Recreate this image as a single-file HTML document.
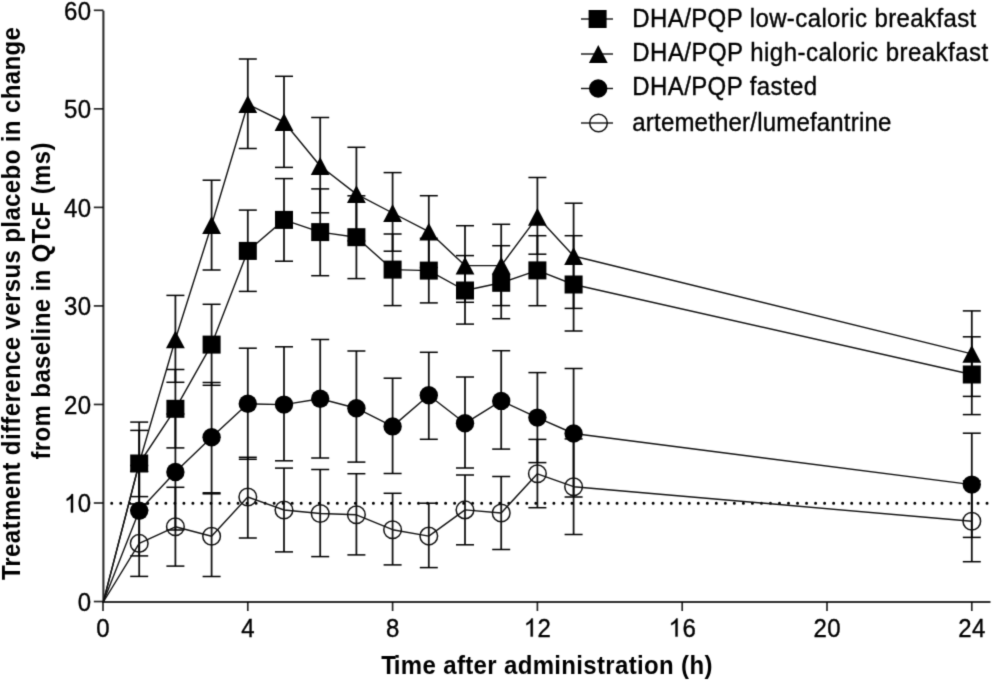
<!DOCTYPE html>
<html><head><meta charset="utf-8"><title>QTcF chart</title>
<style>
html,body{margin:0;padding:0;background:#fff;}
body{width:992px;height:681px;overflow:hidden;}
svg{display:block;}
#w{width:992px;height:681px;}
</style></head><body>
<div id="w"><svg width="992" height="681" viewBox="0 0 992 681"><defs><filter id="bl" x="0" y="0" width="992" height="681" filterUnits="userSpaceOnUse" color-interpolation-filters="sRGB"><feConvolveMatrix order="3" kernelMatrix="0.019 0.1 0.019 0.1 0.524 0.1 0.019 0.1 0.019" edgeMode="duplicate"/></filter></defs><g filter="url(#bl)">
<rect width="992" height="681" fill="#fff"/>
<line x1="111.7" y1="503.2" x2="990" y2="503.2" stroke="#000" stroke-width="3" stroke-linecap="round" stroke-dasharray="0.01 9.014"/>
<g stroke="#000" stroke-opacity="0.82" stroke-width="2.1" fill="none">
<path d="M103.4,10.7 V602 H990.5"/>
</g>
<g stroke="#000" stroke-opacity="0.85" stroke-width="1.7" fill="none">
<line x1="93.8" y1="601.54" x2="103.4" y2="601.54"/>
<line x1="93.8" y1="503.00" x2="103.4" y2="503.00"/>
<line x1="93.8" y1="404.46" x2="103.4" y2="404.46"/>
<line x1="93.8" y1="305.92" x2="103.4" y2="305.92"/>
<line x1="93.8" y1="207.38" x2="103.4" y2="207.38"/>
<line x1="93.8" y1="108.84" x2="103.4" y2="108.84"/>
<line x1="93.8" y1="10.30" x2="103.4" y2="10.30"/>
<line x1="103.00" y1="602" x2="103.00" y2="611"/>
<line x1="247.80" y1="602" x2="247.80" y2="611"/>
<line x1="392.60" y1="602" x2="392.60" y2="611"/>
<line x1="537.40" y1="602" x2="537.40" y2="611"/>
<line x1="682.20" y1="602" x2="682.20" y2="611"/>
<line x1="827.00" y1="602" x2="827.00" y2="611"/>
<line x1="971.80" y1="602" x2="971.80" y2="611"/>
</g>
<g stroke="#000" stroke-opacity="0.92" stroke-width="1.8" fill="none">
<line x1="139.20" y1="430.40" x2="139.20" y2="496.60"/>
<line x1="175.40" y1="369.50" x2="175.40" y2="447.90"/>
<line x1="211.60" y1="304.30" x2="211.60" y2="385.30"/>
<line x1="247.80" y1="210.10" x2="247.80" y2="291.40"/>
<line x1="284.00" y1="178.60" x2="284.00" y2="261.20"/>
<line x1="320.20" y1="188.90" x2="320.20" y2="275.70"/>
<line x1="356.40" y1="195.80" x2="356.40" y2="278.60"/>
<line x1="392.60" y1="234.00" x2="392.60" y2="305.60"/>
<line x1="428.80" y1="238.30" x2="428.80" y2="302.90"/>
<line x1="465.00" y1="255.60" x2="465.00" y2="324.10"/>
<line x1="501.20" y1="245.70" x2="501.20" y2="318.70"/>
<line x1="537.40" y1="235.70" x2="537.40" y2="305.70"/>
<line x1="573.60" y1="235.70" x2="573.60" y2="331.00"/>
<line x1="971.80" y1="336.80" x2="971.80" y2="414.60"/>
<line x1="139.20" y1="422.10" x2="139.20" y2="503.90"/>
<line x1="175.40" y1="295.40" x2="175.40" y2="382.30"/>
<line x1="211.60" y1="180.20" x2="211.60" y2="270.00"/>
<line x1="247.80" y1="59.00" x2="247.80" y2="148.50"/>
<line x1="284.00" y1="76.30" x2="284.00" y2="167.40"/>
<line x1="320.20" y1="117.50" x2="320.20" y2="212.80"/>
<line x1="356.40" y1="147.30" x2="356.40" y2="240.90"/>
<line x1="392.60" y1="172.60" x2="392.60" y2="251.20"/>
<line x1="428.80" y1="195.70" x2="428.80" y2="267.50"/>
<line x1="465.00" y1="225.70" x2="465.00" y2="302.30"/>
<line x1="501.20" y1="224.30" x2="501.20" y2="305.60"/>
<line x1="537.40" y1="177.50" x2="537.40" y2="254.20"/>
<line x1="573.60" y1="203.20" x2="573.60" y2="308.40"/>
<line x1="971.80" y1="310.90" x2="971.80" y2="396.40"/>
<line x1="139.20" y1="465.50" x2="139.20" y2="555.90"/>
<line x1="175.40" y1="414.00" x2="175.40" y2="530.00"/>
<line x1="211.60" y1="382.50" x2="211.60" y2="492.80"/>
<line x1="247.80" y1="348.20" x2="247.80" y2="459.30"/>
<line x1="284.00" y1="346.80" x2="284.00" y2="460.80"/>
<line x1="320.20" y1="339.50" x2="320.20" y2="458.00"/>
<line x1="356.40" y1="351.00" x2="356.40" y2="462.10"/>
<line x1="392.60" y1="378.20" x2="392.60" y2="473.50"/>
<line x1="428.80" y1="352.30" x2="428.80" y2="439.30"/>
<line x1="465.00" y1="377.00" x2="465.00" y2="468.00"/>
<line x1="501.20" y1="350.70" x2="501.20" y2="449.10"/>
<line x1="537.40" y1="372.60" x2="537.40" y2="462.60"/>
<line x1="573.60" y1="368.50" x2="573.60" y2="497.00"/>
<line x1="971.80" y1="433.20" x2="971.80" y2="537.40"/>
<line x1="139.20" y1="510.40" x2="139.20" y2="576.40"/>
<line x1="175.40" y1="487.30" x2="175.40" y2="566.10"/>
<line x1="211.60" y1="493.80" x2="211.60" y2="576.50"/>
<line x1="247.80" y1="457.30" x2="247.80" y2="538.00"/>
<line x1="284.00" y1="468.10" x2="284.00" y2="551.90"/>
<line x1="320.20" y1="469.50" x2="320.20" y2="556.60"/>
<line x1="356.40" y1="473.70" x2="356.40" y2="554.90"/>
<line x1="392.60" y1="493.30" x2="392.60" y2="564.90"/>
<line x1="428.80" y1="503.20" x2="428.80" y2="567.60"/>
<line x1="465.00" y1="475.00" x2="465.00" y2="544.80"/>
<line x1="501.20" y1="476.50" x2="501.20" y2="549.50"/>
<line x1="537.40" y1="439.40" x2="537.40" y2="507.70"/>
<line x1="573.60" y1="438.90" x2="573.60" y2="534.50"/>
<line x1="971.80" y1="480.90" x2="971.80" y2="561.70"/>
</g>
<g stroke="#000" stroke-opacity="1" stroke-width="1.5" fill="none">
<line x1="130.20" y1="430.40" x2="148.20" y2="430.40"/>
<line x1="130.20" y1="496.60" x2="148.20" y2="496.60"/>
<line x1="166.40" y1="369.50" x2="184.40" y2="369.50"/>
<line x1="166.40" y1="447.90" x2="184.40" y2="447.90"/>
<line x1="202.60" y1="304.30" x2="220.60" y2="304.30"/>
<line x1="202.60" y1="385.30" x2="220.60" y2="385.30"/>
<line x1="238.80" y1="210.10" x2="256.80" y2="210.10"/>
<line x1="238.80" y1="291.40" x2="256.80" y2="291.40"/>
<line x1="275.00" y1="178.60" x2="293.00" y2="178.60"/>
<line x1="275.00" y1="261.20" x2="293.00" y2="261.20"/>
<line x1="311.20" y1="188.90" x2="329.20" y2="188.90"/>
<line x1="311.20" y1="275.70" x2="329.20" y2="275.70"/>
<line x1="347.40" y1="195.80" x2="365.40" y2="195.80"/>
<line x1="347.40" y1="278.60" x2="365.40" y2="278.60"/>
<line x1="383.60" y1="234.00" x2="401.60" y2="234.00"/>
<line x1="383.60" y1="305.60" x2="401.60" y2="305.60"/>
<line x1="419.80" y1="238.30" x2="437.80" y2="238.30"/>
<line x1="419.80" y1="302.90" x2="437.80" y2="302.90"/>
<line x1="456.00" y1="255.60" x2="474.00" y2="255.60"/>
<line x1="456.00" y1="324.10" x2="474.00" y2="324.10"/>
<line x1="492.20" y1="245.70" x2="510.20" y2="245.70"/>
<line x1="492.20" y1="318.70" x2="510.20" y2="318.70"/>
<line x1="528.40" y1="235.70" x2="546.40" y2="235.70"/>
<line x1="528.40" y1="305.70" x2="546.40" y2="305.70"/>
<line x1="564.60" y1="235.70" x2="582.60" y2="235.70"/>
<line x1="564.60" y1="331.00" x2="582.60" y2="331.00"/>
<line x1="962.80" y1="336.80" x2="980.80" y2="336.80"/>
<line x1="962.80" y1="414.60" x2="980.80" y2="414.60"/>
<line x1="130.20" y1="422.10" x2="148.20" y2="422.10"/>
<line x1="130.20" y1="503.90" x2="148.20" y2="503.90"/>
<line x1="166.40" y1="295.40" x2="184.40" y2="295.40"/>
<line x1="166.40" y1="382.30" x2="184.40" y2="382.30"/>
<line x1="202.60" y1="180.20" x2="220.60" y2="180.20"/>
<line x1="202.60" y1="270.00" x2="220.60" y2="270.00"/>
<line x1="238.80" y1="59.00" x2="256.80" y2="59.00"/>
<line x1="238.80" y1="148.50" x2="256.80" y2="148.50"/>
<line x1="275.00" y1="76.30" x2="293.00" y2="76.30"/>
<line x1="275.00" y1="167.40" x2="293.00" y2="167.40"/>
<line x1="311.20" y1="117.50" x2="329.20" y2="117.50"/>
<line x1="311.20" y1="212.80" x2="329.20" y2="212.80"/>
<line x1="347.40" y1="147.30" x2="365.40" y2="147.30"/>
<line x1="347.40" y1="240.90" x2="365.40" y2="240.90"/>
<line x1="383.60" y1="172.60" x2="401.60" y2="172.60"/>
<line x1="383.60" y1="251.20" x2="401.60" y2="251.20"/>
<line x1="419.80" y1="195.70" x2="437.80" y2="195.70"/>
<line x1="419.80" y1="267.50" x2="437.80" y2="267.50"/>
<line x1="456.00" y1="225.70" x2="474.00" y2="225.70"/>
<line x1="456.00" y1="302.30" x2="474.00" y2="302.30"/>
<line x1="492.20" y1="224.30" x2="510.20" y2="224.30"/>
<line x1="492.20" y1="305.60" x2="510.20" y2="305.60"/>
<line x1="528.40" y1="177.50" x2="546.40" y2="177.50"/>
<line x1="528.40" y1="254.20" x2="546.40" y2="254.20"/>
<line x1="564.60" y1="203.20" x2="582.60" y2="203.20"/>
<line x1="564.60" y1="308.40" x2="582.60" y2="308.40"/>
<line x1="962.80" y1="310.90" x2="980.80" y2="310.90"/>
<line x1="962.80" y1="396.40" x2="980.80" y2="396.40"/>
<line x1="130.20" y1="465.50" x2="148.20" y2="465.50"/>
<line x1="130.20" y1="555.90" x2="148.20" y2="555.90"/>
<line x1="166.40" y1="414.00" x2="184.40" y2="414.00"/>
<line x1="166.40" y1="530.00" x2="184.40" y2="530.00"/>
<line x1="202.60" y1="382.50" x2="220.60" y2="382.50"/>
<line x1="202.60" y1="492.80" x2="220.60" y2="492.80"/>
<line x1="238.80" y1="348.20" x2="256.80" y2="348.20"/>
<line x1="238.80" y1="459.30" x2="256.80" y2="459.30"/>
<line x1="275.00" y1="346.80" x2="293.00" y2="346.80"/>
<line x1="275.00" y1="460.80" x2="293.00" y2="460.80"/>
<line x1="311.20" y1="339.50" x2="329.20" y2="339.50"/>
<line x1="311.20" y1="458.00" x2="329.20" y2="458.00"/>
<line x1="347.40" y1="351.00" x2="365.40" y2="351.00"/>
<line x1="347.40" y1="462.10" x2="365.40" y2="462.10"/>
<line x1="383.60" y1="378.20" x2="401.60" y2="378.20"/>
<line x1="383.60" y1="473.50" x2="401.60" y2="473.50"/>
<line x1="419.80" y1="352.30" x2="437.80" y2="352.30"/>
<line x1="419.80" y1="439.30" x2="437.80" y2="439.30"/>
<line x1="456.00" y1="377.00" x2="474.00" y2="377.00"/>
<line x1="456.00" y1="468.00" x2="474.00" y2="468.00"/>
<line x1="492.20" y1="350.70" x2="510.20" y2="350.70"/>
<line x1="492.20" y1="449.10" x2="510.20" y2="449.10"/>
<line x1="528.40" y1="372.60" x2="546.40" y2="372.60"/>
<line x1="528.40" y1="462.60" x2="546.40" y2="462.60"/>
<line x1="564.60" y1="368.50" x2="582.60" y2="368.50"/>
<line x1="564.60" y1="497.00" x2="582.60" y2="497.00"/>
<line x1="962.80" y1="433.20" x2="980.80" y2="433.20"/>
<line x1="962.80" y1="537.40" x2="980.80" y2="537.40"/>
<line x1="130.20" y1="510.40" x2="148.20" y2="510.40"/>
<line x1="130.20" y1="576.40" x2="148.20" y2="576.40"/>
<line x1="166.40" y1="487.30" x2="184.40" y2="487.30"/>
<line x1="166.40" y1="566.10" x2="184.40" y2="566.10"/>
<line x1="202.60" y1="493.80" x2="220.60" y2="493.80"/>
<line x1="202.60" y1="576.50" x2="220.60" y2="576.50"/>
<line x1="238.80" y1="457.30" x2="256.80" y2="457.30"/>
<line x1="238.80" y1="538.00" x2="256.80" y2="538.00"/>
<line x1="275.00" y1="468.10" x2="293.00" y2="468.10"/>
<line x1="275.00" y1="551.90" x2="293.00" y2="551.90"/>
<line x1="311.20" y1="469.50" x2="329.20" y2="469.50"/>
<line x1="311.20" y1="556.60" x2="329.20" y2="556.60"/>
<line x1="347.40" y1="473.70" x2="365.40" y2="473.70"/>
<line x1="347.40" y1="554.90" x2="365.40" y2="554.90"/>
<line x1="383.60" y1="493.30" x2="401.60" y2="493.30"/>
<line x1="383.60" y1="564.90" x2="401.60" y2="564.90"/>
<line x1="419.80" y1="503.20" x2="437.80" y2="503.20"/>
<line x1="419.80" y1="567.60" x2="437.80" y2="567.60"/>
<line x1="456.00" y1="475.00" x2="474.00" y2="475.00"/>
<line x1="456.00" y1="544.80" x2="474.00" y2="544.80"/>
<line x1="492.20" y1="476.50" x2="510.20" y2="476.50"/>
<line x1="492.20" y1="549.50" x2="510.20" y2="549.50"/>
<line x1="528.40" y1="439.40" x2="546.40" y2="439.40"/>
<line x1="528.40" y1="507.70" x2="546.40" y2="507.70"/>
<line x1="564.60" y1="438.90" x2="582.60" y2="438.90"/>
<line x1="564.60" y1="534.50" x2="582.60" y2="534.50"/>
<line x1="962.80" y1="480.90" x2="980.80" y2="480.90"/>
<line x1="962.80" y1="561.70" x2="980.80" y2="561.70"/>
</g>
<g stroke="#111" stroke-width="1.4" fill="none" stroke-linejoin="round">
<polyline points="103.30,602 139.20,463.50 175.40,408.80 211.60,344.60 247.80,250.90 284.00,219.90 320.20,232.10 356.40,237.20 392.60,269.60 428.80,270.60 465.00,290.50 501.20,282.80 537.40,270.40 573.60,284.50 971.80,374.50"/>
<polyline points="103.30,602 139.20,463.00 175.40,339.30 211.60,225.00 247.80,104.20 284.00,122.00 320.20,166.00 356.40,194.10 392.60,213.00 428.80,231.60 465.00,265.60 501.20,265.60 537.40,216.80 573.60,256.00 971.80,353.90"/>
<polyline points="103.30,602 139.20,510.70 175.40,472.00 211.60,437.30 247.80,403.80 284.00,404.60 320.20,398.70 356.40,408.20 392.60,426.40 428.80,395.20 465.00,423.30 501.20,400.90 537.40,417.60 573.60,433.50 971.80,484.60"/>
<polyline points="103.30,602 139.20,543.40 175.40,526.80 211.60,536.20 247.80,497.00 284.00,510.00 320.20,513.50 356.40,514.80 392.60,529.70 428.80,536.10 465.00,509.90 501.20,513.00 537.40,473.80 573.60,486.70 971.80,521.30"/>
</g>
<g fill="#000" stroke="none">
<circle cx="139.20" cy="510.70" r="9.2"/>
<circle cx="175.40" cy="472.00" r="9.2"/>
<circle cx="211.60" cy="437.30" r="9.2"/>
<circle cx="247.80" cy="403.80" r="9.2"/>
<circle cx="284.00" cy="404.60" r="9.2"/>
<circle cx="320.20" cy="398.70" r="9.2"/>
<circle cx="356.40" cy="408.20" r="9.2"/>
<circle cx="392.60" cy="426.40" r="9.2"/>
<circle cx="428.80" cy="395.20" r="9.2"/>
<circle cx="465.00" cy="423.30" r="9.2"/>
<circle cx="501.20" cy="400.90" r="9.2"/>
<circle cx="537.40" cy="417.60" r="9.2"/>
<circle cx="573.60" cy="433.50" r="9.2"/>
<circle cx="971.80" cy="484.60" r="9.2"/>
<rect x="130.20" y="454.50" width="18.00" height="18.00"/>
<rect x="166.40" y="399.80" width="18.00" height="18.00"/>
<rect x="202.60" y="335.60" width="18.00" height="18.00"/>
<rect x="238.80" y="241.90" width="18.00" height="18.00"/>
<rect x="275.00" y="210.90" width="18.00" height="18.00"/>
<rect x="311.20" y="223.10" width="18.00" height="18.00"/>
<rect x="347.40" y="228.20" width="18.00" height="18.00"/>
<rect x="383.60" y="260.60" width="18.00" height="18.00"/>
<rect x="419.80" y="261.60" width="18.00" height="18.00"/>
<rect x="456.00" y="281.50" width="18.00" height="18.00"/>
<rect x="492.20" y="273.80" width="18.00" height="18.00"/>
<rect x="528.40" y="261.40" width="18.00" height="18.00"/>
<rect x="564.60" y="275.50" width="18.00" height="18.00"/>
<rect x="962.80" y="365.50" width="18.00" height="18.00"/>
<polygon points="139.20,454.10 148.60,471.90 129.80,471.90"/>
<polygon points="175.40,330.40 184.80,348.20 166.00,348.20"/>
<polygon points="211.60,216.10 221.00,233.90 202.20,233.90"/>
<polygon points="247.80,95.30 257.20,113.10 238.40,113.10"/>
<polygon points="284.00,113.10 293.40,130.90 274.60,130.90"/>
<polygon points="320.20,157.10 329.60,174.90 310.80,174.90"/>
<polygon points="356.40,185.20 365.80,203.00 347.00,203.00"/>
<polygon points="392.60,204.10 402.00,221.90 383.20,221.90"/>
<polygon points="428.80,222.70 438.20,240.50 419.40,240.50"/>
<polygon points="465.00,256.70 474.40,274.50 455.60,274.50"/>
<polygon points="501.20,256.70 510.60,274.50 491.80,274.50"/>
<polygon points="537.40,207.90 546.80,225.70 528.00,225.70"/>
<polygon points="573.60,247.10 583.00,264.90 564.20,264.90"/>
<polygon points="971.80,345.00 981.20,362.80 962.40,362.80"/>
</g>
<g fill="none" stroke="#111" stroke-width="1.5">
<circle cx="139.20" cy="543.40" r="8.8"/>
<circle cx="175.40" cy="526.80" r="8.8"/>
<circle cx="211.60" cy="536.20" r="8.8"/>
<circle cx="247.80" cy="497.00" r="8.8"/>
<circle cx="284.00" cy="510.00" r="8.8"/>
<circle cx="320.20" cy="513.50" r="8.8"/>
<circle cx="356.40" cy="514.80" r="8.8"/>
<circle cx="392.60" cy="529.70" r="8.8"/>
<circle cx="428.80" cy="536.10" r="8.8"/>
<circle cx="465.00" cy="509.90" r="8.8"/>
<circle cx="501.20" cy="513.00" r="8.8"/>
<circle cx="537.40" cy="473.80" r="8.8"/>
<circle cx="573.60" cy="486.70" r="8.8"/>
<circle cx="971.80" cy="521.30" r="8.8"/>
</g>
<g font-family="Liberation Sans, sans-serif" font-size="24" fill="#000" stroke="#000" stroke-width="0.35">
<text transform="translate(77.85,610.94) scale(1,1.06)">0</text>
<path transform="translate(64.10,512.40) scale(0.011719,-0.012422)" d="M763,0H583V1147Q518,1085 412,1023Q306,961 223,930V1104Q374,1175 486,1276Q599,1377 646,1472H763Z" vector-effect="non-scaling-stroke"/>
<text transform="translate(77.85,512.40) scale(1,1.06)">0</text>
<text transform="translate(64.10,413.86) scale(1,1.06)">2</text>
<text transform="translate(77.85,413.86) scale(1,1.06)">0</text>
<text transform="translate(64.10,315.32) scale(1,1.06)">3</text>
<text transform="translate(77.85,315.32) scale(1,1.06)">0</text>
<text transform="translate(64.10,216.78) scale(1,1.06)">4</text>
<text transform="translate(77.85,216.78) scale(1,1.06)">0</text>
<text transform="translate(64.10,118.24) scale(1,1.06)">5</text>
<text transform="translate(77.85,118.24) scale(1,1.06)">0</text>
<text transform="translate(64.10,19.70) scale(1,1.06)">6</text>
<text transform="translate(77.85,19.70) scale(1,1.06)">0</text>
<text transform="translate(96.33,636.60) scale(1,1.05)">0</text>
<text transform="translate(241.13,636.60) scale(1,1.05)">4</text>
<text transform="translate(385.93,636.60) scale(1,1.05)">8</text>
<path transform="translate(523.85,636.60) scale(0.011719,-0.012305)" d="M763,0H583V1147Q518,1085 412,1023Q306,961 223,930V1104Q374,1175 486,1276Q599,1377 646,1472H763Z" vector-effect="non-scaling-stroke"/>
<text transform="translate(537.60,636.60) scale(1,1.05)">2</text>
<path transform="translate(668.65,636.60) scale(0.011719,-0.012305)" d="M763,0H583V1147Q518,1085 412,1023Q306,961 223,930V1104Q374,1175 486,1276Q599,1377 646,1472H763Z" vector-effect="non-scaling-stroke"/>
<text transform="translate(682.40,636.60) scale(1,1.05)">6</text>
<text transform="translate(813.45,636.60) scale(1,1.05)">2</text>
<text transform="translate(827.20,636.60) scale(1,1.05)">0</text>
<text transform="translate(958.25,636.60) scale(1,1.05)">2</text>
<text transform="translate(972.00,636.60) scale(1,1.05)">4</text>
</g>
<g font-family="Liberation Sans, sans-serif" font-size="24" font-weight="bold" fill="#000" letter-spacing="0.4">
<text transform="translate(381.2,673.9) scale(1,1.04)" letter-spacing="0.35">T<tspan dx="-2.4">ime after administration (h)</tspan></text>
<text transform="translate(19.6,580) rotate(-90) scale(1,1.04)" letter-spacing="0.395">T<tspan dx="-1.7">reatment difference versus placebo in change</tspan></text>
<text transform="translate(49.7,459.5) rotate(-90) scale(1,1.04)" letter-spacing="0.38">from baseline in QTcF (ms)</text>
</g>
<g stroke="#111" stroke-width="1.4">
<line x1="581" y1="19.0" x2="613" y2="19.0"/>
<line x1="581" y1="54.0" x2="613" y2="54.0"/>
<line x1="581" y1="88.5" x2="613" y2="88.5"/>
<line x1="581" y1="123.0" x2="613" y2="123.0"/>
</g>
<g fill="#000">
<rect x="588.60" y="10.00" width="18.00" height="18.00"/>
<polygon points="598.30,45.10 607.70,62.90 588.90,62.90"/>
<circle cx="598.20" cy="88.50" r="9.2"/>
</g>
<g fill="none" stroke="#111" stroke-width="1.5">
<circle cx="598.50" cy="123.00" r="8.8"/>
</g>
<g font-family="Liberation Sans, sans-serif" font-size="24" fill="#000" stroke="#000" stroke-width="0.35" letter-spacing="0.4">
<text transform="translate(632.3,26.85) scale(1,1.04)" letter-spacing="0.4">DHA/PQP low-caloric breakfast</text>
<text transform="translate(632.3,61.15) scale(1,1.04)" letter-spacing="0.47">DHA/PQP high-caloric breakfast</text>
<text transform="translate(632.3,94.6) scale(1,1.04)" letter-spacing="0.4">DHA/PQP fasted</text>
<text transform="translate(632.3,130.6) scale(1,1.04)" letter-spacing="0.2">artemether/lumefantrine</text>
</g>
</g></svg></div>
</body></html>
